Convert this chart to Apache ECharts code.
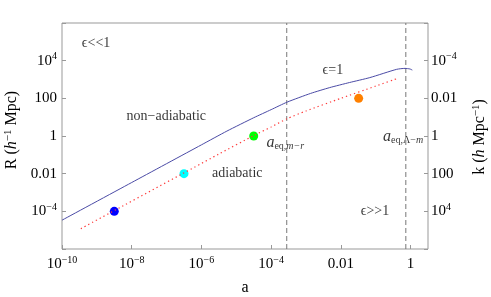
<!DOCTYPE html>
<html><head><meta charset="utf-8">
<script src="https://cdn.jsdelivr.net/npm/echarts@6/dist/echarts.min.js"></script>
<style>html,body{margin:0;padding:0;background:#fff}#c{width:491px;height:297px}</style>
</head><body><div id="c"></div>
<script>
// ---- data ----
const blueA = [1e-10, 1e-8, 1e-6, 5.37e-6, 3.16e-5, 1e-4, 2.88e-4, 1.35e-3, 4.79e-3, 0.0178, 0.0676, 0.398, 0.692, 0.955, 1.12];
const blueR = [3.39e-5, 3.39e-3, 0.339, 1.82, 9.33, 25.1, 63.1, 182, 372, 692, 1259, 3467, 3890, 3630, 3162];
const redA = [3.47e-10, 3.16e-6, 3.16e-5, 1e-4, 2.88e-4, 1e-3, 0.01, 0.1, 0.427];
const redR = [1.2e-5, 0.11, 1.05, 3.02, 8.32, 21.4, 100, 447, 1148];
const dotA = [3.16e-9, 3.16e-7, 3.16e-5, 0.0324];
const dotR = [1e-4, 0.01, 1, 100];
const dotColors = ['#0000ff', '#00ffff', '#00ff00', '#ff8000'];
const eqLines = [2.8e-4, 0.73];
const xRange = [1e-10, 3.16];
const yRange = [1e-6, 1e6];
const annText = ['ϵ<<1', 'non−adiabatic', 'adiabatic', 'ϵ=1', 'ϵ>>1', '{a|a}{s|eq,}{si|m−r}', '{a|a}{s|eq,Λ−}{si|m}'];
const annA = [9.5e-10, 9.8e-8, 1.07e-5, 5.9e-3, 0.095, 7.3e-5, 0.163];
const annR = [8.3e4, 10.7, 0.0102, 3162, 1.02e-4, 0.46, 0.955];
const annAlign = ['center', 'center', 'center', 'center', 'center', 'left', 'left'];

const SERIF = 'Liberation Serif, Times New Roman, serif';
function fmtLog(v, hideEdge) {
  const l = Math.log10(v);
  const e = Math.round(l);
  if (Math.abs(l - e) > 0.01) return '';
  if (hideEdge && Math.abs(e) >= 6) return '';
  if (e === 0) return '{b|1}';
  if (e === 2) return '{b|100}';
  if (e === -2) return '{b|0.01}';
  return '{b|10}{s|' + (e < 0 ? '−' : '') + Math.abs(e) + '}';
}
const tickRich = {
  b: {fontSize: 15, fontFamily: SERIF, color: '#000', lineHeight: 18},
  s: {fontSize: 10, fontFamily: SERIF, color: '#000', lineHeight: 10, verticalAlign: 'top'}
};
const tickStyle = {inside: true, length: 4, lineStyle: {color: '#999', width: 1}};

const chart = echarts.init(document.getElementById('c'), null, {renderer: 'canvas'});
const annData = annText.map((t, i) => ({
  value: [annA[i], annR[i]],
  label: {
    formatter: t,
    position: annAlign[i] === 'left' ? 'right' : 'inside',
    distance: 0
  }
}));
const vLines = eqLines.map(x => ({
  type: 'line', data: [[x, yRange[0]], [x, yRange[1]]], showSymbol: false, silent: true,
  lineStyle: {color: '#777', width: 1, type: [5, 3]}, z: 1
}));
chart.setOption({
  animation: false,
  backgroundColor: '#fff',
  grid: {left: 62, right: 63, top: 23, bottom: 48, show: true, borderColor: '#999', borderWidth: 1, containLabel: false},
  xAxis: {
    type: 'log', logBase: 10, min: xRange[0], max: xRange[1], interval: 2,
    axisLine: {show: false}, splitLine: {show: false}, axisTick: tickStyle,
    axisLabel: {formatter: v => fmtLog(v, false), rich: tickRich, margin: 6, showMaxLabel: false}
  },
  yAxis: [{
    type: 'log', logBase: 10, min: yRange[0], max: yRange[1], interval: 2,
    axisLine: {show: false}, splitLine: {show: false}, axisTick: tickStyle,
    axisLabel: {formatter: v => fmtLog(v, true), rich: tickRich, margin: 5}
  }, {
    type: 'log', logBase: 10, min: yRange[0], max: yRange[1], interval: 2, inverse: true, position: 'right',
    axisLine: {show: false}, splitLine: {show: false}, axisTick: tickStyle,
    axisLabel: {formatter: v => fmtLog(v, true), rich: tickRich, margin: 3}
  }],
  series: vLines.concat([{
    type: 'line', name: 'horizon', data: blueA.map((a, i) => [a, blueR[i]]),
    showSymbol: false, smooth: 0.2, silent: true,
    lineStyle: {color: '#4b4ba6', width: 1}
  }, {
    type: 'line', name: 'adiabatic', data: redA.map((a, i) => [a, redR[i]]),
    showSymbol: false, smooth: 0.2, silent: true,
    lineStyle: {color: '#ff3a3a', width: 1.2, type: [1.3, 3]}
  }, {
    type: 'scatter', data: dotA.map((a, i) => ({value: [a, dotR[i]], itemStyle: {color: dotColors[i], opacity: 1}})),
    symbolSize: 9, silent: true, itemStyle: {opacity: 1}
  }, {
    type: 'scatter', data: annData, symbolSize: 0, silent: true,
    label: {
      show: true, color: '#000', fontSize: 14, fontFamily: SERIF,
      rich: {
        a: {fontSize: 16, fontFamily: SERIF, fontStyle: 'italic', color: '#000', lineHeight: 18},
        s: {fontSize: 10, fontFamily: SERIF, color: '#000', lineHeight: 10, verticalAlign: 'bottom'},
        si: {fontSize: 10, fontFamily: SERIF, fontStyle: 'italic', color: '#000', lineHeight: 10, verticalAlign: 'bottom'}
      }
    }
  }]),
  graphic: [{
    type: 'text', x: 12, y: 130, rotation: Math.PI / 2,
    style: {
      text: '{n|R (}{i|h}{s|−1}{n| Mpc)}', align: 'center', verticalAlign: 'middle',
      rich: {
        n: {fontSize: 16, fontFamily: SERIF, color: '#000', lineHeight: 18},
        i: {fontSize: 16, fontFamily: SERIF, fontStyle: 'italic', color: '#000', lineHeight: 18},
        s: {fontSize: 11, fontFamily: SERIF, color: '#000', lineHeight: 10, verticalAlign: 'top'}
      }
    }
  }, {
    type: 'text', x: 480, y: 137, rotation: Math.PI / 2,
    style: {
      text: '{n|k (}{i|h}{n| Mpc}{s|−1}{n|)}', align: 'center', verticalAlign: 'middle',
      rich: {
        n: {fontSize: 16, fontFamily: SERIF, color: '#000', lineHeight: 18},
        i: {fontSize: 16, fontFamily: SERIF, fontStyle: 'italic', color: '#000', lineHeight: 18},
        s: {fontSize: 11, fontFamily: SERIF, color: '#000', lineHeight: 10, verticalAlign: 'top'}
      }
    }
  }, {
    type: 'text', x: 245, y: 288,
    style: {text: 'a', fontSize: 16, fontFamily: SERIF, fill: '#000', align: 'center', verticalAlign: 'middle'}
  }]
});
</script></body></html>
